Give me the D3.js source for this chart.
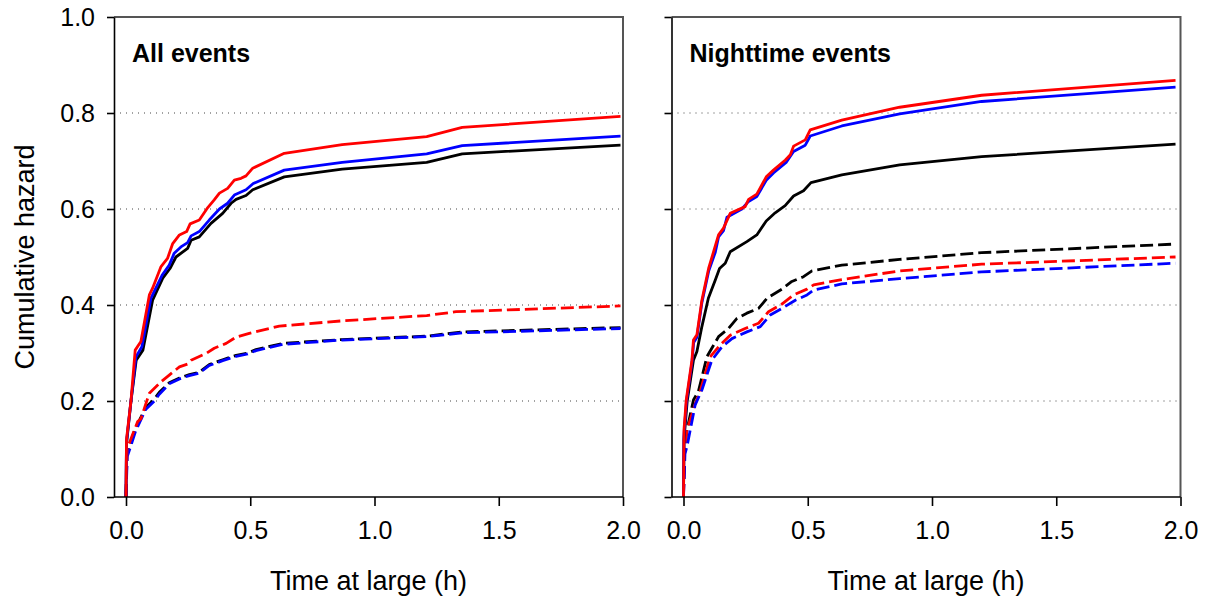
<!DOCTYPE html>
<html>
<head>
<meta charset="utf-8">
<script src="https://cdn.jsdelivr.net/npm/d3@7"></script>
<style>
  body { margin: 0; background: #fff; }
  text { font-family: "Liberation Sans", Arial, sans-serif; fill: #000; }
</style>
</head>
<body>
<svg id="chart" width="1208" height="601"></svg>
<script>
// tick labels
const xTicks = [0.0, 0.5, 1.0, 1.5, 2.0]
const yTicks = [0.0, 0.2, 0.4, 0.6, 0.8, 1.0]
const gridTicks = [0.2, 0.4, 0.6, 0.8]
const panelTitles = ["All events", "Nighttime events"]

// All events, [time (h), cumulative hazard]
const allBlackSolid = [[0,0],[0.002,0.11],[0.02,0.2],[0.041,0.285],[0.068,0.306],[0.107,0.41],[0.148,0.456],[0.177,0.476],[0.201,0.5],[0.248,0.518],[0.262,0.535],[0.295,0.542],[0.342,0.57],[0.389,0.591],[0.423,0.612],[0.443,0.62],[0.483,0.628],[0.51,0.64],[0.637,0.667],[0.87,0.683],[1.21,0.697],[1.353,0.715],[1.99,0.733]]
const allBlueSolid = [[0,0],[0.002,0.115],[0.02,0.2],[0.04,0.292],[0.064,0.313],[0.1,0.414],[0.145,0.462],[0.174,0.483],[0.194,0.508],[0.221,0.521],[0.248,0.53],[0.262,0.544],[0.295,0.553],[0.335,0.577],[0.376,0.6],[0.409,0.612],[0.436,0.629],[0.483,0.64],[0.512,0.653],[0.637,0.681],[0.87,0.697],[1.21,0.715],[1.353,0.732],[1.99,0.752]]
const allRedSolid = [[0,0],[0.002,0.12],[0.02,0.2],[0.037,0.306],[0.06,0.324],[0.094,0.421],[0.107,0.435],[0.141,0.48],[0.167,0.497],[0.188,0.528],[0.215,0.546],[0.244,0.553],[0.258,0.569],[0.295,0.577],[0.329,0.603],[0.355,0.619],[0.376,0.633],[0.409,0.643],[0.436,0.66],[0.463,0.664],[0.483,0.669],[0.51,0.685],[0.637,0.716],[0.87,0.734],[1.21,0.751],[1.353,0.77],[1.99,0.793]]
const allBlackDash = [[0,0],[0.004,0.09],[0.037,0.142],[0.08,0.187],[0.114,0.204],[0.134,0.218],[0.174,0.238],[0.215,0.248],[0.255,0.255],[0.295,0.26],[0.335,0.276],[0.389,0.286],[0.443,0.295],[0.49,0.3],[0.523,0.307],[0.63,0.32],[0.87,0.328],[1.21,0.335],[1.353,0.344],[1.99,0.353]]
const allBlueDash = [[0,0],[0.005,0.084],[0.039,0.138],[0.08,0.183],[0.114,0.2],[0.134,0.214],[0.174,0.236],[0.215,0.246],[0.255,0.253],[0.295,0.258],[0.335,0.274],[0.389,0.284],[0.443,0.293],[0.49,0.298],[0.523,0.305],[0.63,0.318],[0.87,0.327],[1.21,0.334],[1.353,0.342],[1.99,0.351]]
const allRedDash = [[0,0],[0.004,0.1],[0.034,0.14],[0.047,0.157],[0.06,0.163],[0.094,0.216],[0.141,0.24],[0.174,0.254],[0.215,0.271],[0.248,0.277],[0.262,0.285],[0.322,0.299],[0.355,0.31],[0.403,0.32],[0.443,0.333],[0.496,0.341],[0.617,0.356],[0.87,0.367],[1.21,0.378],[1.328,0.386],[1.99,0.398]]

// Nighttime events
const nightBlackSolid = [[0,0],[0.002,0.12],[0.015,0.2],[0.04,0.285],[0.054,0.303],[0.074,0.355],[0.1,0.414],[0.128,0.452],[0.145,0.476],[0.168,0.487],[0.188,0.511],[0.255,0.532],[0.295,0.546],[0.333,0.575],[0.369,0.592],[0.409,0.607],[0.443,0.627],[0.483,0.638],[0.513,0.655],[0.637,0.671],[0.87,0.692],[1.2,0.709],[1.98,0.735]]
const nightBlueSolid = [[0,0],[0.002,0.13],[0.012,0.2],[0.034,0.28],[0.041,0.322],[0.054,0.333],[0.074,0.405],[0.101,0.47],[0.128,0.51],[0.141,0.542],[0.161,0.555],[0.175,0.583],[0.235,0.6],[0.26,0.615],[0.295,0.626],[0.333,0.66],[0.362,0.675],[0.413,0.697],[0.443,0.72],[0.49,0.733],[0.51,0.752],[0.637,0.773],[0.87,0.798],[1.2,0.824],[1.98,0.854]]
const nightRedSolid = [[0,0],[0.002,0.14],[0.011,0.202],[0.034,0.285],[0.04,0.327],[0.054,0.338],[0.074,0.41],[0.101,0.476],[0.141,0.546],[0.161,0.56],[0.188,0.591],[0.248,0.605],[0.262,0.62],[0.295,0.631],[0.333,0.667],[0.362,0.681],[0.41,0.702],[0.43,0.713],[0.443,0.731],[0.49,0.744],[0.51,0.765],[0.637,0.785],[0.87,0.812],[1.2,0.837],[1.98,0.868]]
const nightBlackDash = [[0,0],[0.004,0.1],[0.014,0.14],[0.04,0.202],[0.06,0.22],[0.094,0.292],[0.141,0.334],[0.181,0.351],[0.215,0.372],[0.255,0.383],[0.302,0.393],[0.336,0.414],[0.396,0.433],[0.436,0.449],[0.483,0.459],[0.517,0.471],[0.637,0.483],[0.87,0.495],[1.2,0.509],[1.98,0.527]]
const nightBlueDash = [[0,0],[0.006,0.09],[0.014,0.105],[0.047,0.192],[0.074,0.223],[0.114,0.285],[0.155,0.313],[0.195,0.33],[0.255,0.344],[0.309,0.355],[0.349,0.379],[0.403,0.395],[0.45,0.41],[0.497,0.421],[0.524,0.431],[0.637,0.444],[0.87,0.455],[1.2,0.469],[1.98,0.487]]
const nightRedDash = [[0,0],[0.005,0.1],[0.014,0.14],[0.047,0.194],[0.067,0.22],[0.107,0.292],[0.148,0.317],[0.188,0.337],[0.248,0.351],[0.302,0.362],[0.342,0.386],[0.396,0.402],[0.443,0.421],[0.497,0.433],[0.524,0.442],[0.637,0.453],[0.87,0.471],[1.2,0.485],[1.98,0.5]]

const panels = [
  {left: 114, title: panelTitles[0], yLabels: true,
   series: [
     {data: allBlackDash, color: "#000", dash: true},
     {data: allBlueDash, color: "#0000ff", dash: true},
     {data: allRedDash, color: "#ff0000", dash: true},
     {data: allBlackSolid, color: "#000", dash: false},
     {data: allBlueSolid, color: "#0000ff", dash: false},
     {data: allRedSolid, color: "#ff0000", dash: false}]},
  {left: 671.5, title: panelTitles[1], yLabels: false,
   series: [
     {data: nightBlackDash, color: "#000", dash: true},
     {data: nightRedDash, color: "#ff0000", dash: true},
     {data: nightBlueDash, color: "#0000ff", dash: true},
     {data: nightBlackSolid, color: "#000", dash: false},
     {data: nightBlueSolid, color: "#0000ff", dash: false},
     {data: nightRedSolid, color: "#ff0000", dash: false}]}
]

const svg = d3.select("#chart")
const top_y = 17, bottom_y = 497
const plot_w = 509

const y = d3.scaleLinear().domain([0, 1]).range([bottom_y, top_y])

panels.forEach(p => {
    const x = d3.scaleLinear().domain([0, 2]).range([p.left + 12, p.left + 12 + 497])
    const right = p.left + plot_w
    const g = svg.append("g")

    // dotted grid
    g.selectAll(".grid").data(gridTicks).enter().append("line")
        .attr("x1", p.left).attr("x2", right)
        .attr("y1", d => y(d)).attr("y2", d => y(d))
        .attr("stroke", "#444").attr("stroke-width", 1)
        .attr("stroke-dasharray", "1,5")

    // frame top + right
    g.append("path")
        .attr("d", `M${p.left},${top_y}H${right}V${bottom_y}`)
        .attr("fill", "none").attr("stroke", "#555").attr("stroke-width", 2)

    // curves
    const line = d3.line().x(d => x(d[0])).y(d => y(d[1]))
    p.series.forEach(s => {
        g.append("path")
            .datum(s.data)
            .attr("d", line)
            .attr("fill", "none")
            .attr("stroke", s.color)
            .attr("stroke-width", 2.8)
            .attr("stroke-linejoin", "round")
            .attr("stroke-dasharray", s.dash ? "13,5" : null)
    })

    // axes
    const xAxis = g.append("g")
        .attr("transform", `translate(0,${bottom_y})`)
        .call(d3.axisBottom(x).tickValues(xTicks).tickFormat(d3.format(".1f")).tickSize(9).tickPadding(15).tickSizeOuter(0))
    xAxis.select(".domain").attr("d", `M${p.left},0H${right}`)

    const yAxis = g.append("g")
        .attr("transform", `translate(${p.left},0)`)
        .call(d3.axisLeft(y).tickValues(yTicks).tickFormat(p.yLabels ? d3.format(".1f") : "").tickSize(7).tickPadding(12).tickSizeOuter(0))

    ;[xAxis, yAxis].forEach(a => {
        a.selectAll("path, line").attr("stroke", "#000").attr("stroke-width", 1.6)
        a.selectAll("text").style("font-size", "25px").style("font-family", "'Liberation Sans', Arial, sans-serif").attr("fill", "#000")
    })

    g.append("text")
        .attr("x", p.left + 18).attr("y", 62)
        .style("font-size", "25px").style("font-weight", "bold")
        .text(p.title)

    g.append("text")
        .attr("x", (p.left + right) / 2).attr("y", 590)
        .attr("text-anchor", "middle")
        .style("font-size", "27px")
        .text("Time at large (h)")
})

svg.append("text")
    .attr("transform", "translate(34,257) rotate(-90)")
    .attr("text-anchor", "middle")
    .style("font-size", "27px")
    .text("Cumulative hazard")
</script>
</body>
</html>
